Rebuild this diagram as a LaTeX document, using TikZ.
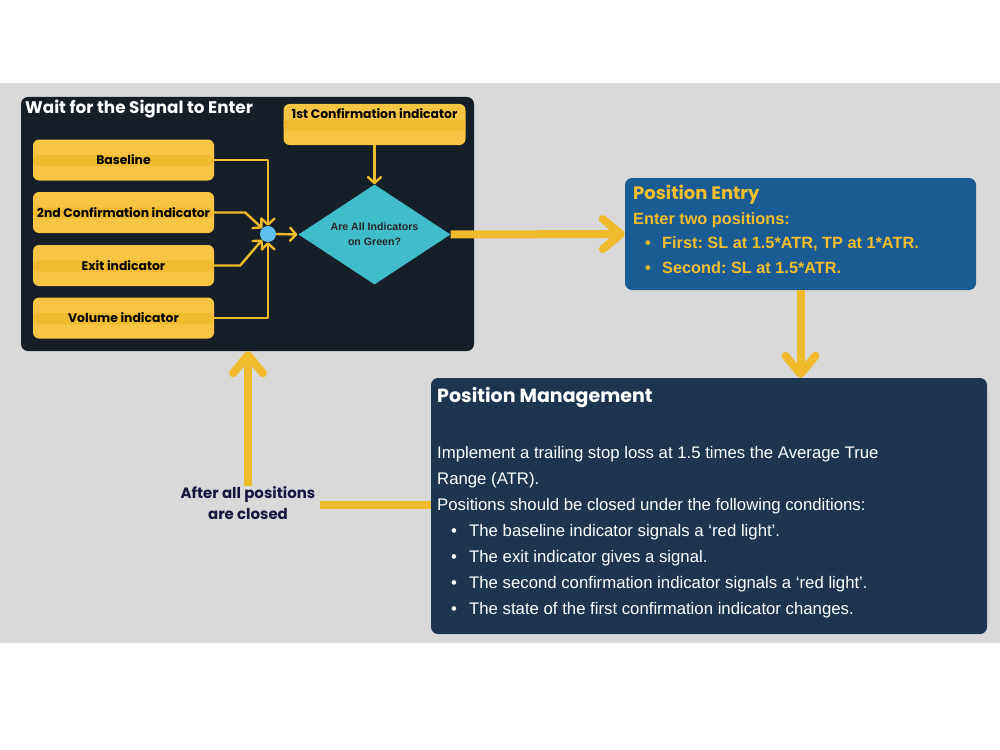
\documentclass[tikz,border=0pt]{standalone}
\usepackage{fontspec}
\setmainfont{Liberation Sans}
\newfontfamily\pop{Poppins}
\usetikzlibrary{arrows.meta,shapes.geometric,calc}
\definecolor{bggray}{HTML}{D9D9D9}
\definecolor{panel}{HTML}{161E27}
\definecolor{ybox}{HTML}{F7C444}
\definecolor{yband}{HTML}{F1BB2F}
\definecolor{yarrow}{HTML}{EFBA2C}
\definecolor{dotc}{HTML}{5EBFF0}
\definecolor{diam}{HTML}{40BCCB}
\definecolor{entryc}{HTML}{1B5B93}
\definecolor{entryt}{HTML}{F2BE2C}
\definecolor{mgmtc}{HTML}{1E3552}
\definecolor{navy}{HTML}{16163E}
\tikzset{
  ybox/.style={fill=ybox, rounded corners=6pt, minimum width=181pt, minimum height=41pt,
    inner sep=0pt, font=\pop\bfseries\fontsize{12.4}{14}\selectfont, text=black,
    path picture={\fill[yband] ([yshift=-6pt]path picture bounding box.west) rectangle ([yshift=5pt]path picture bounding box.east);}},
  sarrow/.style={draw=yarrow, line width=2.4pt, line join=round,
    -{Straight Barb[length=6pt,width=13pt,line width=2.4pt,round]}},
  barrow/.style={draw=yarrow, line width=8pt,
    -{Straight Barb[length=18pt,width=30pt,line width=8pt,round]}},
}
\begin{document}
\begin{tikzpicture}[x=1pt,y=-1pt]
\frenchspacing
\useasboundingbox (0,0) rectangle (1000,749);
\fill[white] (0,0) rectangle (1000,749);
\fill[bggray] (0,83) rectangle (1000,643);
% left panel
\node[fill=panel, rounded corners=7pt, minimum width=453pt, minimum height=254pt, inner sep=0pt] (panel) at (247.5,224) {};
\node[anchor=west, text=white, font=\pop\bfseries\fontsize{16.8}{18}\selectfont, inner sep=0pt] (ptitle) at (25,109) {Wait for the Signal to Enter};
\node[ybox] (base) at (123.5,160) {Baseline};
\node[ybox] (conf2) at (123.5,212.5) {2nd Confirmation indicator};
\node[ybox] (exit) at (123.5,265.5) {Exit indicator};
\node[ybox] (vol) at (123.5,318) {Volume indicator};
\node[ybox, minimum width=182pt, text height=9pt, text depth=22pt] (conf1) at (374.5,124.5) {1st Confirmation indicator};
\node[circle, fill=dotc, minimum size=16pt, inner sep=0pt] (dot) at (268,234) {};
\node[diamond, fill=diam, minimum width=152pt, minimum height=100pt, inner sep=0pt, aspect=1.52,
  font=\bfseries\fontsize{10.6}{15}\selectfont, align=center, text=black!85] (diam) at (374.5,234.5) {Are All Indicators\\on Green?};
% small connectors
\draw[sarrow] (base.east) -| (dot.north);
\draw[sarrow] (vol.east) -| (dot.south);
\draw[sarrow] (conf2.east) -- ++(31,0) -- (dot.north west);
\draw[sarrow] (exit.east) -- ++(26,0) -- (dot.south west);
\draw[sarrow] (dot.east) -- ([xshift=-1pt]diam.west);
\draw[sarrow] (conf1.south) -- (diam.north);
% position entry
\node[fill=entryc, rounded corners=7pt, minimum width=351pt, minimum height=112pt, inner sep=0pt] (entry) at (800.5,234) {};
\node[anchor=west, text=entryt, font=\pop\bfseries\fontsize{18}{20}\selectfont, inner sep=0pt] (etitle) at (633,195) {Position Entry};
\node[anchor=north west, text=entryt, font=\bfseries\fontsize{16.3}{24.5}\selectfont, inner sep=0pt, align=left] (ebody) at (633,212)
  {Enter two positions:\\\hspace*{12pt}\makebox[17pt][l]{•}First: SL at 1.5*ATR, TP at 1*ATR.\\\hspace*{12pt}\makebox[17pt][l]{•}Second: SL at 1.5*ATR.};
% position management
\node[fill=mgmtc, rounded corners=7pt, minimum width=556pt, minimum height=256pt, inner sep=0pt] (mgmt) at (709,506) {};
\node[anchor=west, text=white, font=\pop\bfseries\fontsize{19}{21}\selectfont, inner sep=0pt] (mtitle) at (437,397) {Position Management};
\node[anchor=north west, text=white, font=\fontsize{16.75}{26}\selectfont, inner sep=0pt, align=left] (mbody) at (437,446)
  {Implement a trailing stop loss at 1.5 times the Average True\\
   Range (ATR).\\
   Positions should be closed under the following conditions:\\
   \hspace*{14pt}\makebox[18pt][l]{•}The baseline indicator signals a ‘red light’.\\
   \hspace*{14pt}\makebox[18pt][l]{•}The exit indicator gives a signal.\\
   \hspace*{14pt}\makebox[18pt][l]{•}The second confirmation indicator signals a ‘red light’.\\
   \hspace*{14pt}\makebox[18pt][l]{•}The state of the first confirmation indicator changes.};
% loop back
\node[text=navy, font=\pop\bfseries\fontsize{15}{21}\selectfont, align=center, inner sep=1pt] (back) at (248,503.5) {After all positions\\are closed};
% big connectors
\draw[barrow] (diam.east) -- (entry.west);
\draw[barrow] (entry.south) -- (entry.south |- mgmt.north);
\draw[draw=yarrow, line width=8pt] (mgmt.west |- 0,505) -- (320,505);
\draw[barrow] (back.north) -- (back.north |- panel.south);
\end{tikzpicture}
\end{document}
